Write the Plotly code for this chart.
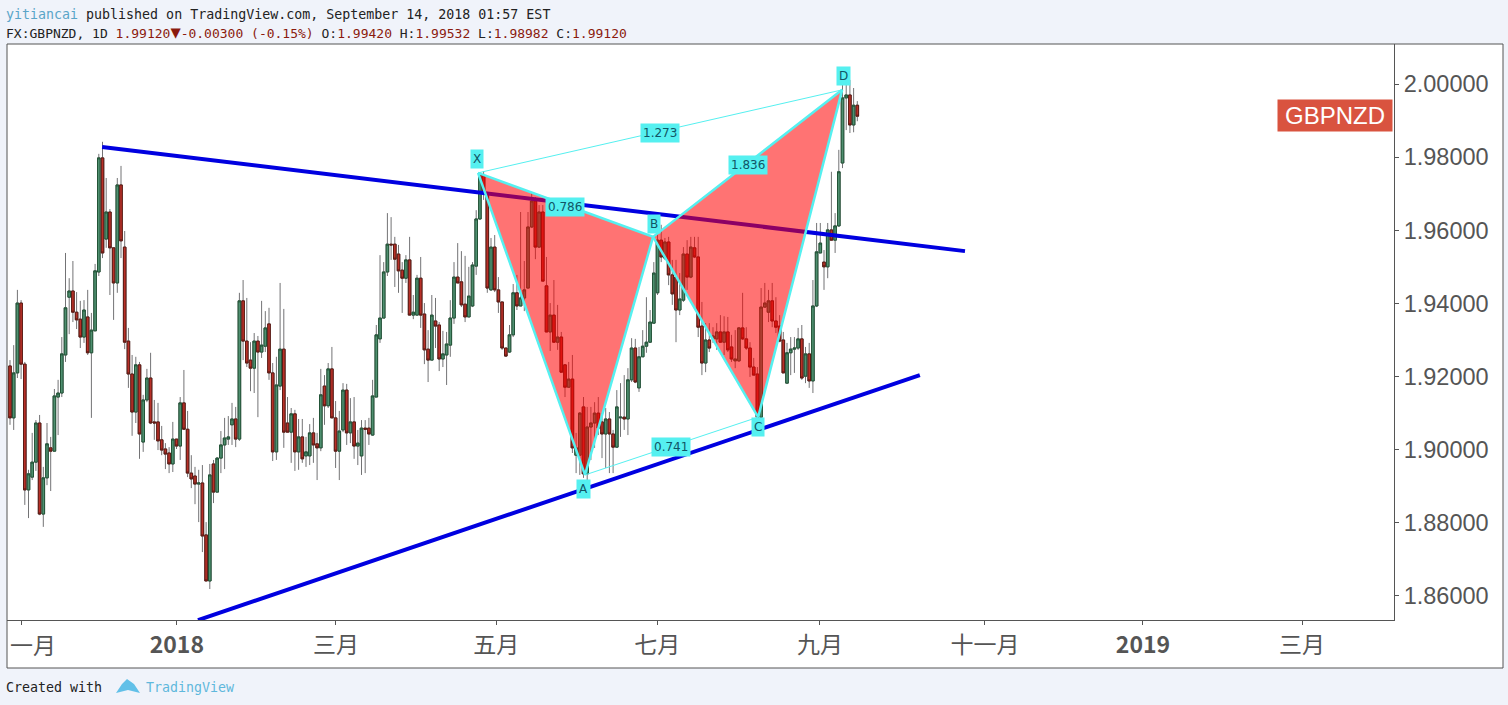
#GBPNZD daily chart with a bat pattern drawn over it
import plotly.graph_objects as go

# daily bars
opens = [1.9229,1.9087,1.9210,1.9401,1.9234,1.8890,1.8925,1.8966,1.9073,1.8824,
         1.8923,1.9005,1.8996,1.9144,1.9155,1.9259,1.9417,1.9434,1.9376,1.9357,
         1.9308,1.9363,1.9265,1.9325,1.9486,1.9798,1.9576,1.9650,1.9552,1.9456,
         1.9724,1.9554,1.9297,1.9207,1.9103,1.9232,1.9021,1.9136,1.9196,1.9076,
         1.9076,1.9027,1.9002,1.8991,1.8961,1.9029,1.9010,1.9128,1.9056,1.8936,
         1.8928,1.8906,1.8909,1.8767,1.8641,1.8961,1.8884,1.8977,1.9013,1.9029,
         1.9068,1.9084,1.9029,1.9407,1.9297,1.9245,1.9223,1.9297,1.9267,1.9283,
         1.9344,1.9210,1.8994,1.9174,1.9275,1.9073,1.9048,1.9098,1.8994,1.9035,
         1.8983,1.8983,1.9046,1.9016,1.9005,1.9174,1.9120,1.9221,1.9087,1.8996,
         1.9054,1.9163,1.9046,1.9076,1.9010,1.8983,1.9059,1.9059,1.9040,1.9144,
         1.9303,1.9360,1.9486,1.9562,1.9562,1.9535,1.9491,1.9469,1.9519,1.9368,
         1.9368,1.9469,1.9371,1.9275,1.9245,1.9352,1.9341,1.9248,1.9259,1.9286,
         1.9360,1.9472,1.9459,1.9398,1.9363,1.9393,1.9502,1.9631,1.9751,1.9702,
         1.9437,1.9554,1.9437,1.9404,1.9278,1.9267,1.9314,1.9429,1.9393,1.9415,
         1.9442,1.9609,1.9680,1.9554,1.9650,1.9448,1.9322,1.9368,1.9294,1.9308,
         1.9232,1.9171,1.9193,1.8985,1.8985,1.9117,1.8934,1.9062,1.9073,1.9100,
         1.9076,1.9043,1.9084,1.9043,1.9007,1.9087,1.9089,1.9084,1.9191,1.9278,
         1.9169,1.9254,1.9283,1.9294,1.9346,1.9429,1.9573,1.9524,1.9568,1.9478,
         1.9472,1.9382,1.9409,1.9535,1.9472,1.9552,1.9527,1.9338,1.9237,1.9300,
         1.9303,1.9303,1.9322,1.9294,1.9322,1.9281,1.9243,1.9243,1.9333,1.9303,
         1.9278,1.9226,1.9207,1.9089,1.9390,1.9376,1.9407,1.9352,1.9338,1.9300,
         1.9182,1.9265,1.9275,1.9278,1.9303,1.9201,1.9262,1.9188,1.9393,1.9538,
         1.9513,1.9500,1.9601,1.9573,1.9612,1.9784,1.9962,1.9970,1.9888,1.99420]
highs = [1.9245,1.9286,1.9437,1.9409,1.9240,1.8945,1.9046,1.9081,1.9095,1.8953,
         1.9073,1.9035,1.9166,1.9191,1.9308,1.9538,1.9469,1.9516,1.9431,1.9407,
         1.9409,1.9437,1.9374,1.9508,1.9809,1.9842,1.9743,1.9658,1.9552,1.9743,
         1.9776,1.9598,1.9333,1.9259,1.9254,1.9240,1.9150,1.9221,1.9265,1.9136,
         1.9128,1.9065,1.9018,1.9007,1.9076,1.9029,1.9144,1.9218,1.9106,1.8985,
         1.8953,1.8945,1.8958,1.8802,1.8961,1.8972,1.8980,1.9051,1.9087,1.9092,
         1.9128,1.9117,1.9429,1.9464,1.9415,1.9294,1.9319,1.9311,1.9407,1.9379,
         1.9388,1.9237,1.9254,1.9456,1.9385,1.9144,1.9114,1.9109,1.9084,1.9084,
         1.9035,1.9070,1.9087,1.9046,1.9221,1.9204,1.9237,1.9281,1.9133,1.9106,
         1.9182,1.9180,1.9141,1.9144,1.9054,1.9081,1.9081,1.9087,1.9191,1.9341,
         1.9532,1.9513,1.9647,1.9636,1.9582,1.9560,1.9513,1.9532,1.9582,1.9423,
         1.9478,1.9527,1.9401,1.9327,1.9423,1.9415,1.9349,1.9325,1.9322,1.9409,
         1.9513,1.9565,1.9543,1.9530,1.9500,1.9513,1.9655,1.9759,1.9762,1.9705,
         1.9579,1.9587,1.9472,1.9404,1.9278,1.9341,1.9453,1.9478,1.9650,1.9516,
         1.9650,1.9702,1.9691,1.9669,1.9669,1.9527,1.9401,1.9464,1.9396,1.9322,
         1.9232,1.9240,1.9259,1.9046,1.9103,1.9144,1.9117,1.9117,1.9130,1.9144,
         1.9100,1.9114,1.9103,1.9054,1.9163,1.9182,1.9204,1.9223,1.9305,1.9303,
         1.9281,1.9327,1.9417,1.9382,1.9513,1.9628,1.9615,1.9579,1.9582,1.9519,
         1.9519,1.9483,1.9554,1.9573,1.9582,1.9582,1.9582,1.9404,1.9346,1.9346,
         1.9335,1.9346,1.9368,1.9365,1.9363,1.9314,1.9327,1.9335,1.9429,1.9335,
         1.9294,1.9251,1.9226,1.9442,1.9456,1.9437,1.9456,1.9417,1.9368,1.9322,
         1.9292,1.9308,1.9308,1.9333,1.9341,1.9281,1.9292,1.9464,1.9620,1.9620,
         1.9546,1.9620,1.9760,1.9647,1.9820,2.0011,2.0019,2.0011,1.9989,1.99532]
lows = [1.9068,1.9054,1.9196,1.9193,1.8849,1.8813,1.8917,1.8942,1.8821,1.8789,
        1.8903,1.8887,1.8996,1.9040,1.9144,1.9240,1.9316,1.9349,1.9330,1.9278,
        1.9292,1.9259,1.9087,1.9325,1.9475,1.9524,1.9552,1.9423,1.9355,1.9429,
        1.9524,1.9275,1.9169,1.9038,1.9073,1.8975,1.8994,1.9130,1.9070,1.9027,
        1.8999,1.8985,1.8947,1.8936,1.8939,1.9002,1.8972,1.9054,1.8925,1.8895,
        1.8851,1.8802,1.8720,1.8641,1.8619,1.8854,1.8884,1.8936,1.8947,1.9013,
        1.9013,1.9007,1.9024,1.9245,1.9226,1.9160,1.9155,1.9089,1.9251,1.9267,
        1.9191,1.8969,1.8972,1.9163,1.9005,1.9048,1.8964,1.8942,1.8945,1.8964,
        1.8953,1.8958,1.8964,1.8917,1.8996,1.9068,1.9114,1.9087,1.8950,1.8917,
        1.9048,1.9013,1.9018,1.8975,1.8958,1.8931,1.8936,1.9013,1.9038,1.9144,
        1.9292,1.9360,1.9475,1.9519,1.9445,1.9429,1.9374,1.9456,1.9368,1.9357,
        1.9368,1.9333,1.9234,1.9185,1.9245,1.9278,1.9215,1.9226,1.9177,1.9254,
        1.9344,1.9456,1.9390,1.9349,1.9363,1.9390,1.9478,1.9628,1.9683,1.9429,
        1.9434,1.9431,1.9374,1.9273,1.9254,1.9265,1.9308,1.9382,1.9393,1.9379,
        1.9442,1.9606,1.9521,1.9552,1.9461,1.9322,1.9270,1.9292,1.9273,1.9212,
        1.9144,1.9169,1.8991,1.8936,1.8931,1.8923,1.8917,1.8972,1.9005,1.9040,
        1.8977,1.8950,1.8936,1.8936,1.9005,1.9035,1.9054,1.9040,1.9185,1.9182,
        1.9158,1.9254,1.9265,1.9292,1.9346,1.9423,1.9513,1.9519,1.9450,1.9396,
        1.9294,1.9368,1.9404,1.9437,1.9469,1.9524,1.9308,1.9204,1.9212,1.9267,
        1.9292,1.9273,1.9292,1.9259,1.9267,1.9240,1.9223,1.9240,1.9300,1.9273,
        1.9199,1.9204,1.9089,1.9089,1.9388,1.9349,1.9335,1.9319,1.9294,1.9210,
        1.9182,1.9204,1.9210,1.9273,1.9191,1.9182,1.9169,1.9155,1.9390,1.9538,
        1.9437,1.9469,1.9573,1.9538,1.9609,1.9770,1.9874,1.9866,1.9868,1.98982]
closes = [1.9087,1.9210,1.9401,1.9234,1.8890,1.8934,1.8966,1.9073,1.8824,1.8923,
          1.9016,1.8996,1.9147,1.9155,1.9262,1.9388,1.9434,1.9376,1.9355,1.9308,
          1.9382,1.9265,1.9327,1.9489,1.9798,1.9538,1.9650,1.9552,1.9456,1.9724,
          1.9571,1.9294,1.9207,1.9103,1.9232,1.9043,1.9136,1.9196,1.9073,1.9073,
          1.9024,1.8999,1.8988,1.8961,1.9029,1.9010,1.9128,1.9056,1.8936,1.8920,
          1.8906,1.8909,1.8764,1.8641,1.8931,1.8884,1.8977,1.9013,1.9032,1.9035,
          1.9084,1.9029,1.9407,1.9297,1.9237,1.9223,1.9297,1.9267,1.9286,1.9333,
          1.9210,1.8994,1.9177,1.9275,1.9048,1.9048,1.9098,1.8994,1.9035,1.8975,
          1.8994,1.9046,1.9013,1.9005,1.9150,1.9120,1.9221,1.9087,1.8996,1.9051,
          1.9163,1.9046,1.9076,1.9010,1.9018,1.9059,1.9056,1.9043,1.9147,1.9314,
          1.9360,1.9486,1.9562,1.9560,1.9521,1.9489,1.9469,1.9519,1.9368,1.9376,
          1.9469,1.9368,1.9273,1.9245,1.9368,1.9338,1.9248,1.9262,1.9289,1.9360,
          1.9472,1.9456,1.9396,1.9363,1.9420,1.9505,1.9631,1.9751,1.9702,1.9442,
          1.9554,1.9437,1.9404,1.9278,1.9256,1.9314,1.9429,1.9393,1.9415,1.9437,
          1.9609,1.9680,1.9554,1.9650,1.9461,1.9322,1.9368,1.9294,1.9308,1.9212,
          1.9171,1.9193,1.9005,1.9005,1.9100,1.8934,1.9062,1.9073,1.9100,1.9059,
          1.9043,1.9084,1.9043,1.9007,1.9117,1.9089,1.9084,1.9191,1.9278,1.9185,
          1.9254,1.9283,1.9294,1.9349,1.9483,1.9573,1.9527,1.9568,1.9478,1.9426,
          1.9382,1.9412,1.9535,1.9472,1.9554,1.9527,1.9335,1.9237,1.9300,1.9278,
          1.9311,1.9322,1.9294,1.9322,1.9273,1.9248,1.9248,1.9333,1.9303,1.9278,
          1.9226,1.9204,1.9089,1.9390,1.9401,1.9407,1.9352,1.9335,1.9297,1.9210,
          1.9265,1.9275,1.9278,1.9303,1.9196,1.9262,1.9188,1.9393,1.9541,1.9565,
          1.9500,1.9601,1.9573,1.9612,1.9760,1.9962,1.9970,1.9888,1.9942,1.99120]
bars = list(range(len(opens)))

# trend lines
upper_x = [24.9, 258.1]
upper_y = [1.9828, 1.9543]
lower_x = [50.8, 245.9]
lower_y = [1.8534, 1.9204]

# harmonic pattern points X A B C D
pat_x = [126.5, 155.4, 173.8, 202.2, 224.9]
pat_y = [1.9757, 1.8931, 1.9582, 1.9089, 1.9984]
pat_names = ['X', 'A', 'B', 'C', 'D']
name_x = [126.2, 155.1, 174.1, 202.2, 225.2]
name_y = [1.9795, 1.8893, 1.9617, 1.9062, 2.0022]
ratio_names = ['0.786', '1.836', '1.273', '0.741']
ratio_x = [150.0, 199.5, 175.7, 178.6]
ratio_y = [1.9664, 1.9778, 1.9866, 1.9007]

y_ticks = [1.86, 1.88, 1.90, 1.92, 1.94, 1.96, 1.98, 2.00]
x_tick_pos = [3.16, 45.1, 88.1, 131.4, 174.9, 218.9, 263.5, 306.2, 349.2]
x_tick_txt = ['', '<b>2018</b>', '三月', '五月', '七月', '九月', '十一月', '<b>2019</b>', '三月']

GREY = '#555555'
CYAN = '#55f0f0'

def px(x):
    return (x - 7) / 1387

def py(y):
    return (620 - y) / 576

fig = go.Figure()

# wicks first, bodies on top, so wicks can stay grey
fig.add_trace(go.Candlestick(x=bars, open=opens, high=highs, low=lows, close=closes,
                             increasing=dict(line=dict(color='#737375', width=1), fillcolor='#737375'),
                             decreasing=dict(line=dict(color='#737375', width=1), fillcolor='#737375'),
                             whiskerwidth=0))
fig.add_trace(go.Candlestick(x=bars, open=opens, close=closes,
                             high=[max(o, c) for o, c in zip(opens, closes)],
                             low=[min(o, c) for o, c in zip(opens, closes)],
                             increasing=dict(line=dict(color='#225437', width=1), fillcolor='#4f8f70'),
                             decreasing=dict(line=dict(color='#5b1a13', width=1), fillcolor='#b83028'),
                             whiskerwidth=0))

fig.add_trace(go.Scatter(x=upper_x, y=upper_y, mode='lines', line=dict(color='#0000e0', width=4)))
fig.add_trace(go.Scatter(x=lower_x, y=lower_y, mode='lines', line=dict(color='#0000e0', width=4)))

# thin XD and AC legs
fig.add_trace(go.Scatter(x=[pat_x[0], pat_x[4]], y=[pat_y[0], pat_y[4]], mode='lines',
                         line=dict(color=CYAN, width=1)))
fig.add_trace(go.Scatter(x=[pat_x[1], pat_x[3]], y=[pat_y[1], pat_y[3]], mode='lines',
                         line=dict(color=CYAN, width=1)))

# the two triangles XAB and BCD
for a, b, c in [(0, 1, 2), (2, 3, 4)]:
    fig.add_trace(go.Scatter(x=[pat_x[a], pat_x[b], pat_x[c], pat_x[a]],
                             y=[pat_y[a], pat_y[b], pat_y[c], pat_y[a]],
                             mode='lines', fill='toself', fillcolor='rgba(255,0,0,0.55)',
                             line=dict(color=CYAN, width=2.5)))

notes = []
for t, x, y in zip(pat_names + ratio_names, name_x + ratio_x, name_y + ratio_y):
    notes.append(dict(text=t, x=x, y=y, xref='x', yref='y', showarrow=False,
                      bgcolor=CYAN, borderpad=2,
                      font=dict(family='DejaVu Sans', size=12, color='#115566')))

# header, footer and the symbol tag
val = '<span style="color:#8b1a0e">%s</span>'
header1 = '<span style="color:#5aa5c8">yitiancai</span> published on TradingView.com, September 14, 2018 01:57 EST'
header2 = ('FX:GBPNZD, 1D ' + val % '1.99120' + '<span style="color:#8b1a0e;font-size:17px">▼</span>'
           + val % '-0.00300 (-0.15%)'
           + ' O:' + val % '1.99420' + ' H:' + val % '1.99532'
           + ' L:' + val % '1.98982' + ' C:' + val % '1.99120')
for t, x, y, size in [(header1, 4, 14, 13.3), (header2, 4, 32, 13), ('Created with', 4, 687, 13.3)]:
    notes.append(dict(text=t, x=px(x), y=py(y), xref='paper', yref='paper', xanchor='left',
                      yanchor='middle', showarrow=False,
                      font=dict(family='DejaVu Sans Mono', size=size, color='#222222')))
notes.append(dict(text='TradingView', x=px(144), y=py(687), xref='paper', yref='paper', xanchor='left',
                  yanchor='middle', showarrow=False,
                  font=dict(family='DejaVu Sans Mono', size=13.3, color='#5fb8dc')))
notes.append(dict(text='一月', x=px(33), y=py(644), xref='paper', yref='paper', showarrow=False,
                  xanchor='center', yanchor='middle',
                  font=dict(family='Noto Sans CJK SC', size=23, color=GREY)))
notes.append(dict(text='GBPNZD', x=px(1335), y=py(115.5), xref='paper', yref='paper', showarrow=False,
                  xanchor='center', yanchor='middle', bgcolor='#d9533f', width=112, height=29,
                  font=dict(family='Liberation Sans', size=24, color='white')))

# white panel behind chart and axes, and the logo
logo = 'M %f %f L %f %f L %f %f L %f %f L %f %f L %f %f Z' % (
    px(116), py(693), px(122), py(684), px(127), py(679), px(134), py(684), px(140), py(693), px(128), py(690))
shapes = [dict(type='rect', xref='paper', yref='paper', x0=0, x1=px(1503), y0=py(668), y1=1,
               fillcolor='white', line=dict(color=GREY, width=1), layer='below'),
          dict(type='path', xref='paper', yref='paper', path=logo, fillcolor='#62c0e8',
               line=dict(width=0))]

fig.update_layout(width=1508, height=705, margin=dict(l=7, r=114, t=44, b=85),
                  paper_bgcolor='#f0f3fa', plot_bgcolor='rgba(0,0,0,0)',
                  showlegend=False, annotations=notes, shapes=shapes, boxgap=0.3, boxgroupgap=0,
                  font=dict(family='Liberation Sans', color=GREY))
fig.update_xaxes(range=[-0.81, 374.05], rangeslider_visible=False, showgrid=False, zeroline=False,
                 tickvals=x_tick_pos, ticktext=x_tick_txt, ticks='outside', ticklen=4, tickcolor=GREY,
                 showline=True, linecolor=GREY, linewidth=1,
                 tickfont=dict(family='Noto Sans CJK SC, Liberation Sans', size=23, color=GREY))
fig.update_yaxes(range=[1.85343, 2.01094], side='right', showgrid=False, zeroline=False,
                 tickvals=y_ticks, tickformat='.5f', ticks='outside', ticklen=4, tickcolor=GREY,
                 showline=True, linecolor=GREY, linewidth=1,
                 tickfont=dict(family='Liberation Sans', size=23.5, color=GREY))

# page margin off, so the figure starts at the window corner
fig.write_html("out.html", config={'displayModeBar': False},
               post_script="document.body.style.margin='0';document.body.style.overflow='hidden';")
